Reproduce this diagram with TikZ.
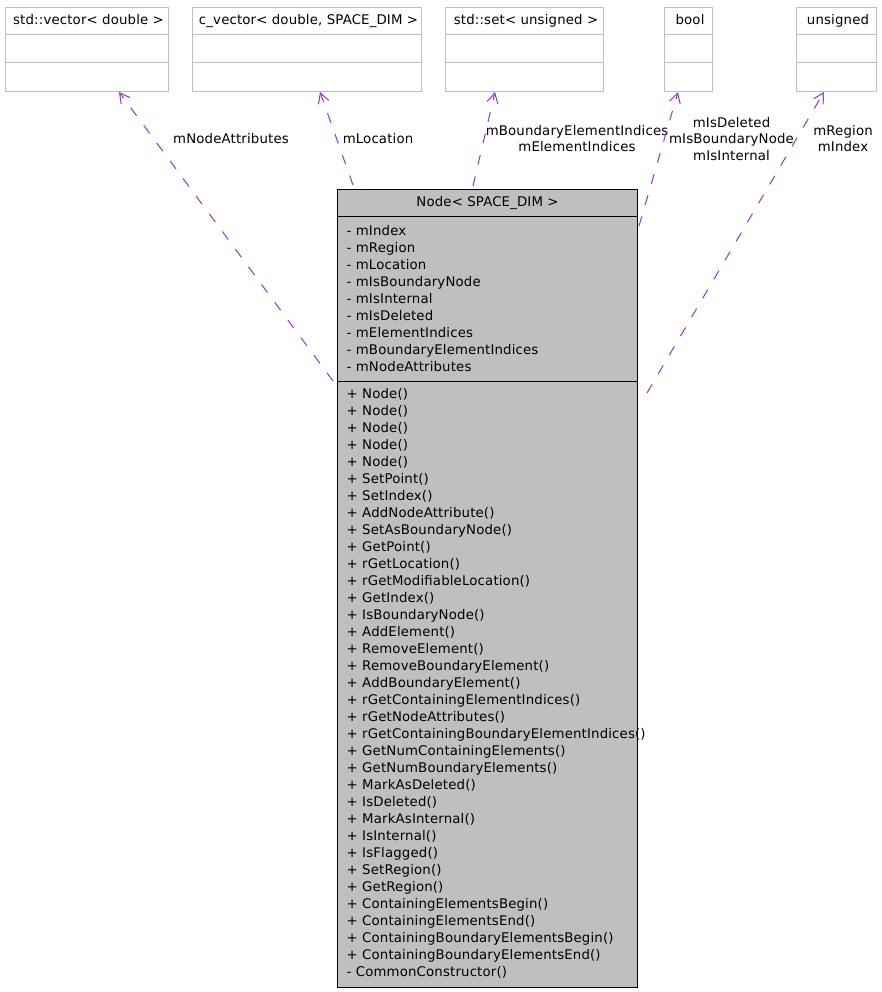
\documentclass[tikz,border=0pt]{standalone}
\usepackage{fontspec}
\setmainfont[LetterSpace=1.2]{DejaVu Sans}
\usetikzlibrary{arrows.meta,calc,positioning}
\definecolor{boxgray}{HTML}{BFBFBF}
\definecolor{nodegray}{HTML}{BFBFBF}
\definecolor{usecol}{HTML}{9A32CD}

\begin{document}
\begin{tikzpicture}[x=1pt,y=-1pt,
  font=\fontsize{13.3}{16.6}\selectfont,
  cls/.style={draw=boxgray,line width=1pt,fill=white,minimum height=84pt,inner sep=0pt,anchor=north west},
  ttl/.style={inner sep=0pt,anchor=base},
  mem/.style={inner sep=0pt,anchor=base west},
  lbl/.style={inner sep=0pt,align=center,anchor=north},
  use/.style={usecol,line width=1pt,dash pattern=on 10pt off 12pt,-{Straight Barb[length=10pt,width=11pt]}}
]
\useasboundingbox (0,0) rectangle (881,992);
\foreach \n/\x/\w/\txt in {vec/5/163/{std::vector< double >},cvec/192/229/{c\_vector< double, SPACE\_DIM >},sset/445/158/{std::set< unsigned >},flag/664/48/bool,uns/796/80/unsigned}{
  \node[cls,minimum width=\w pt] (\n) at (\x,7) {};
  \node[ttl] (\n-t) at ($(\n.north)+(1.5,18)$) {\txt};
  \draw[boxgray,line width=1pt] ($(\n.north west)+(0,28)$) -- ($(\n.north east)+(0,28)$)
    ($(\n.north west)+(0,56)$) -- ($(\n.north east)+(0,56)$);
}
\node[draw,line width=1pt,fill=nodegray,minimum width=300pt,minimum height=798pt,inner sep=0pt,anchor=north west] (nodecls) at (337,189) {};
\node[ttl] (nodecls-t) at ($(nodecls.north)+(0,18)$) {Node< SPACE\_DIM >};
\draw[line width=1pt] ($(nodecls.north west)+(0,28)$) -- ($(nodecls.north east)+(0,28)$)
  ($(nodecls.north west)+(0,192)$) -- ($(nodecls.north east)+(0,192)$);
\foreach [count=\i] \m in {mIndex,mRegion,mLocation,mIsBoundaryNode,mIsInternal,mIsDeleted,mElementIndices,mBoundaryElementIndices,mNodeAttributes}
  \node[mem] (attr\i) at (346.5,{218.5+17*\i}) {- \m};
\foreach [count=\i] \m in {+ Node(),+ Node(),+ Node(),+ Node(),+ Node(),+ SetPoint(),+ SetIndex(),+ AddNodeAttribute(),+ SetAsBoundaryNode(),+ GetPoint(),+ rGetLocation(),+ rGetModifiableLocation(),+ GetIndex(),+ IsBoundaryNode(),+ AddElement(),+ RemoveElement(),+ RemoveBoundaryElement(),+ AddBoundaryElement(),+ rGetContainingElementIndices(),+ rGetNodeAttributes(),+ rGetContainingBoundaryElementIndices(),+ GetNumContainingElements(),+ GetNumBoundaryElements(),+ MarkAsDeleted(),+ IsDeleted(),+ MarkAsInternal(),+ IsInternal(),+ IsFlagged(),+ SetRegion(),+ GetRegion(),+ ContainingElementsBegin(),+ ContainingElementsEnd(),+ ContainingBoundaryElementsBegin(),+ ContainingBoundaryElementsEnd(),- CommonConstructor()}
  \node[mem] (meth\i) at (346.5,{381+17*\i}) {\m};
\node[lbl] (l-attr) at (231,133) {mNodeAttributes};
\node[lbl] (l-loc) at (378,133) {mLocation};
\node[lbl] (l-idx) at (577,125) {mBoundaryElementIndices\\mElementIndices};
\node[lbl] (l-flag) at (731.5,116.7) {mIsDeleted\\mIsBoundaryNode\\mIsInternal};
\node[lbl] (l-uns) at (843,125) {mRegion\\mIndex};
\draw[use] ($(nodecls.north west)+(-4,192)$) -- ($(vec.south west)+(114,0)$);
\draw[use] ($(nodecls.north west)+(16,-4)$) -- ($(cvec.south west)+(128,0)$);
\draw[use] ($(nodecls.north west)+(136,-3)$) -- ($(sset.south west)+(50,0)$);
\draw[use] ($(nodecls.north east)+(1,37)$) -- ($(flag.south west)+(14,0)$);
\draw[use] ($(nodecls.north east)+(9,204)$) -- ($(uns.south west)+(28,0)$);
\end{tikzpicture}
\end{document}
